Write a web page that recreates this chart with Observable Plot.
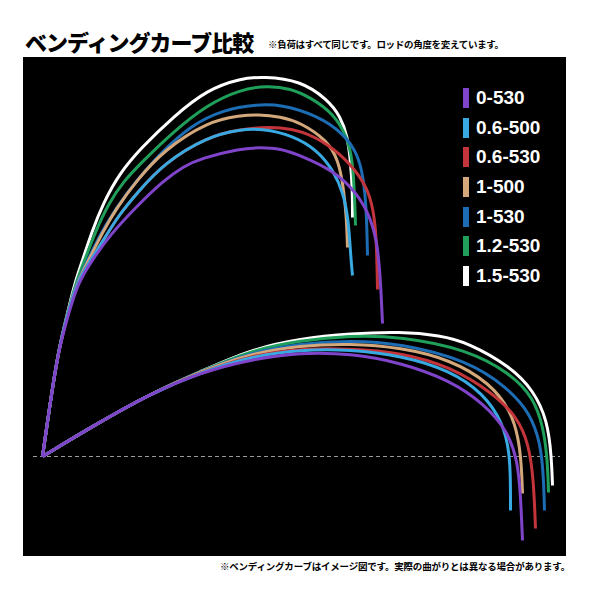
<!DOCTYPE html>
<html lang="ja">
<head>
<meta charset="utf-8">
<script src="https://cdn.jsdelivr.net/npm/d3@7"></script>
<script src="https://cdn.jsdelivr.net/npm/@observablehq/plot@0.6"></script>
<style>
  html, body { margin: 0; padding: 0; background: #fff; }
  body { width: 600px; height: 600px; position: relative; overflow: hidden; }
  .jp { font-family: "Noto Sans CJK JP", "Noto Sans", sans-serif; color: #000; position: absolute; white-space: nowrap; line-height: 1; }
  #title { left: 25px; top: 30px; font-size: 22px; font-weight: 900; letter-spacing: -1px; }
  #subtitle { left: 268px; top: 40px; font-size: 9.5px; font-weight: 700; letter-spacing: -0.3px; }
  #caption { right: 30px; top: 562px; font-size: 9.5px; font-weight: 700; letter-spacing: -0.2px; }
  #chart { position: absolute; left: 23px; top: 57px; }
  #legend { position: absolute; left: 463px; top: 83px; }
  .item { height: 29.7px; display: flex; align-items: center; }
  .swatch { width: 6px; height: 20px; margin-right: 7px; }
  .label { font-family: "Liberation Sans", Arial, Helvetica, sans-serif; font-weight: 700; font-size: 19px; color: #fff; }
</style>
</head>
<body>
<div id="title" class="jp">ベンディングカーブ比較</div>
<div id="subtitle" class="jp">※負荷はすべて同じです。ロッドの角度を変えています。</div>
<div id="chart"></div>
<div id="legend"></div>
<div id="caption" class="jp">※ベンディングカーブはイメージ図です。実際の曲がりとは異なる場合があります。</div>
<script>
// Rod models compared (same load, two rod angles)
const SERIES = ["0-530", "0.6-500", "0.6-530", "1-500", "1-530", "1.2-530", "1.5-530"];
const PALETTE = ["#7f44c9", "#38a9e1", "#c4353b", "#d5a87c", "#1d6db5", "#1f9f5a", "#ffffff"];

// Bent rod profiles: [distance from butt, height above butt]
// High rod angle
const high_0_530 = [[0,0],[8,56],[16,106],[25,139],[35,173],[50,197],[68,222],[93,249],[121,276],[141,290],[158,298],[198,308],[218,309],[238,308],[258,301],[291,286],[315,263],[328,239],[335,213],[338,176],[340,133]];
const high_06_500 = [[0,0],[8,56],[16,106],[24,139],[34,173],[48,196],[62,218],[76,241],[95,264],[121,293],[165,320],[198,327],[218,328],[251,321],[275,306],[291,286],[301,263],[306,236],[308,203],[310,181]];
const high_06_530 = [[0,0],[8,56],[16,106],[24,139],[34,173],[48,196],[62,218],[76,241],[95,264],[121,293],[165,320],[198,327],[218,329],[238,329],[258,326],[285,313],[308,293],[325,269],[331,246],[334,219],[335,167]];
const high_1_500 = [[0,0],[8,56],[16,106],[24,139],[34,173],[46,196],[60,224],[73,247],[95,277],[121,306],[165,335],[198,341],[215,342],[238,340],[258,334],[285,316],[296,296],[301,269],[304,239],[305,209]];
const high_1_530 = [[0,0],[8,56],[16,106],[24,139],[34,173],[45,196],[62,231],[86,266],[103,286],[118,303],[148,331],[181,347],[215,352],[238,352],[275,341],[301,323],[315,303],[321,279],[324,246],[325,201]];
const high_12_530 = [[0,0],[8,56],[16,106],[24,139],[33,173],[42,196],[53,225],[66,253],[81,275],[98,293],[131,325],[165,352],[198,367],[225,371],[248,368],[268,359],[291,343],[305,319],[310,296],[312,263],[313,231]];
const high_15_530 = [[0,0],[8,56],[16,106],[24,139],[32,173],[40,196],[49,224],[61,254],[77,283],[98,308],[131,340],[165,367],[198,378],[221,380],[258,376],[285,357],[298,340],[305,320],[308,296],[310,266],[310,239]];

// Low rod angle
const low_0_530 = [[0,0],[48,29],[108,63],[158,84],[208,97],[258,104],[308,103],[358,94],[408,76],[441,53],[465,26],[475,-4],[478,-37],[480,-84]];
const low_06_500 = [[0,0],[48,29],[108,63],[158,84],[208,100],[258,107],[308,107],[358,101],[408,86],[441,63],[461,33],[467,3],[468,-24],[468,-54]];
const low_06_530 = [[0,0],[48,29],[108,63],[158,84],[208,101],[258,108],[308,108],[358,104],[408,90],[451,63],[475,39],[486,13],[491,-21],[493,-72]];
const low_1_500 = [[0,0],[48,29],[108,63],[158,85],[208,103],[258,111],[308,113],[358,109],[408,97],[448,73],[468,46],[476,19],[479,-9],[480,-37]];
const low_1_530 = [[0,0],[48,29],[108,63],[158,85],[208,104],[258,113],[308,116],[358,113],[425,96],[465,69],[488,43],[498,13],[501,-19],[502,-54]];
const low_12_530 = [[0,0],[48,29],[108,63],[158,85],[208,106],[258,116],[308,121],[358,120],[425,107],[468,83],[491,59],[501,29],[505,-4],[506,-36]];
const low_15_530 = [[0,0],[48,29],[108,63],[158,85],[208,107],[258,118],[308,123],[358,125],[398,121],[425,114],[468,90],[491,66],[505,36],[509,-1],[510,-29]];

const HIGH = [high_0_530, high_06_500, high_06_530, high_1_500, high_1_530, high_12_530, high_15_530];
const LOW = [low_0_530, low_06_500, low_06_530, low_1_500, low_1_530, low_12_530, low_15_530];

// Flatten into a tidy table; the lightest rods are drawn first so 0-530 sits on top
const rows = [];
for (let s = SERIES.length - 1; s >= 0; s--) {
  for (const [angle, profile] of [["high", HIGH[s]], ["low", LOW[s]]]) {
    profile.forEach(([x, y], i) => rows.push({series: SERIES[s], key: SERIES[s] + "/" + angle, x, y, i}));
  }
}

const chart = Plot.plot({
  width: 543,
  height: 499,
  margin: 0,
  x: {domain: [-19, 524], axis: null},
  y: {domain: [-100, 399], axis: null},
  color: {domain: SERIES, range: PALETTE},
  style: {background: "#000", overflow: "visible"},
  marks: [
    Plot.ruleY([0], {stroke: "#9a9a9a", strokeWidth: 1, strokeDasharray: "4,3", insetLeft: 10, insetRight: 6}),
    // B-spline through the profile points keeps each bent blank smooth
    Plot.line(rows, {x: "x", y: "y", z: "key", stroke: "series", strokeWidth: 3, curve: "basis", strokeLinecap: "butt"})
  ]
});
document.getElementById("chart").append(chart);

// Legend
const legend = d3.select("#legend");
SERIES.forEach((name, i) => {
  const item = legend.append("div").attr("class", "item");
  item.append("div").attr("class", "swatch").style("background", PALETTE[i]);
  item.append("div").attr("class", "label").text(name);
});
</script>
</body>
</html>
